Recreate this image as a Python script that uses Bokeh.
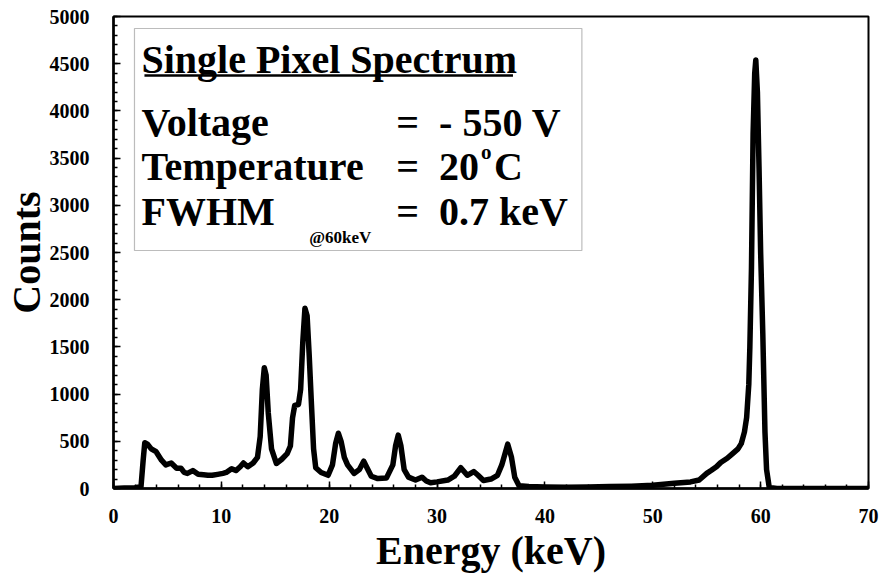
from bokeh.plotting import figure
from bokeh.models import Range1d, SingleIntervalTicker, Label, BoxAnnotation
from bokeh.embed import file_html
from bokeh.resources import INLINE

# Single pixel spectrum: energy (keV) and counts per channel
energy_kev = [
    0.0, 1.0, 2.0, 2.55, 2.75, 2.9, 3.15, 3.5, 3.95, 4.45, 4.85, 5.35, 5.85,
    6.25, 6.55, 6.85, 7.35, 7.85, 8.35, 8.75, 9.15, 9.65, 10.15, 10.45, 10.95,
    11.35, 11.75, 12.05, 12.45, 12.95, 13.35, 13.6, 13.8, 13.98, 14.15, 14.35,
    14.65, 15.1, 15.6, 16.1, 16.4, 16.6, 16.8, 17.15, 17.35, 17.55, 17.75,
    17.95, 18.15, 18.35, 18.55, 18.75, 19.25, 19.9, 20.3, 20.6, 20.85, 21.1,
    21.4, 21.7, 22.3, 22.8, 23.2, 23.5, 23.9, 24.5, 25.3, 25.9, 26.15, 26.4,
    26.65, 26.95, 27.35, 28.0, 28.6, 29.0, 29.4, 30.0, 31.0, 31.6, 32.2, 32.8,
    33.4, 33.8, 34.3, 35.0, 35.6, 36.0, 36.55, 36.9, 37.2, 37.6, 38.5, 40.0,
    42.0, 44.0, 46.0, 48.0, 50.0, 52.0, 53.5, 54.3, 55.0, 55.4, 55.9, 56.3,
    56.9, 57.4, 57.9, 58.2, 58.5, 58.7, 58.9, 59.0, 59.15, 59.3, 59.45, 59.55,
    59.7, 59.85, 60.0, 60.2, 60.4, 60.55, 60.8, 61.5, 70.0,
]
counts = [
    0, 5, 8, 20, 300, 485, 470, 420, 390, 300, 250, 270, 215,
    215, 170, 160, 190, 150, 145, 140, 140, 150, 160, 170, 210,
    190, 230, 270, 230, 270, 330, 550, 1050, 1280, 1200, 800,
    420, 265, 310, 370, 450, 750, 880, 890, 1050, 1550, 1910,
    1830, 1400, 900, 420, 220, 170, 140, 250, 480, 585, 500,
    330, 250, 160, 200, 290, 220, 130, 105, 110, 250, 450, 565,
    450, 200, 120, 90, 120, 80, 60, 70, 90, 130, 220, 140,
    180, 140, 85, 100, 140, 250, 470, 330, 120, 30, 20, 15,
    12, 15, 20, 25, 35, 55, 70, 90, 160, 190, 230, 275,
    320, 370, 420, 475, 600, 750, 1100, 1500, 2340, 3760, 4400, 4540,
    4200, 3400, 2500, 1640, 600, 200, 10, 0, 0,
]

x_ticks_interval = 10
y_ticks_interval = 500

FONT = "Liberation Serif"

p = figure(
    width=881, height=576,
    output_backend="svg", toolbar_location=None,
    x_range=Range1d(0, 70), y_range=Range1d(0, 5000),
    min_border_left=112, min_border_right=13,
    min_border_top=16, min_border_bottom=88,
    background_fill_color="white", border_fill_color="white",
)
p.outline_line_color = "black"
p.outline_line_width = 2
p.xgrid.visible = False
p.ygrid.visible = False

p.xaxis.ticker = SingleIntervalTicker(interval=x_ticks_interval, num_minor_ticks=5)
p.yaxis.ticker = SingleIntervalTicker(interval=y_ticks_interval, num_minor_ticks=5)

for ax in (p.xaxis[0], p.yaxis[0]):
    ax.axis_line_width = 2.5
    ax.axis_line_color = "black"
    ax.major_tick_in = 7
    ax.major_tick_out = 0
    ax.minor_tick_in = 4
    ax.minor_tick_out = 0
    ax.major_tick_line_width = 1.5
    ax.minor_tick_line_width = 1.5
    ax.major_tick_line_color = "black"
    ax.minor_tick_line_color = "black"
    ax.major_label_text_font = FONT
    ax.major_label_text_font_style = "bold"
    ax.major_label_text_font_size = "20px"
    ax.major_label_text_color = "black"
    ax.axis_label_text_font = FONT
    ax.axis_label_text_font_style = "bold"
    ax.axis_label_text_font_size = "40px"
    ax.axis_label_text_color = "black"

p.xaxis.axis_label = "Energy (keV)"
p.yaxis.axis_label = "Counts"
p.xaxis.major_label_standoff = 20
p.yaxis.major_label_standoff = 24
p.xaxis.axis_label_standoff = 2
p.yaxis.axis_label_standoff = -2

p.line(energy_kev, counts, line_width=5.5, line_color="black", line_join="round")

# Info box in the upper left corner, positioned in pixel space of the frame
FRAME_L, FRAME_B = 112, 488
PX_PER_KEV, PX_PER_COUNT = 10.8, 0.0944


def dx(px):
    return (px - FRAME_L) / PX_PER_KEV


def dy(py):
    return (FRAME_B - py) / PX_PER_COUNT


p.add_layout(BoxAnnotation(
    left=dx(133), right=dx(581), top=dy(28), bottom=dy(250),
    fill_color="white", fill_alpha=1.0,
    line_color="#222222", line_width=1.2, level="underlay",
))


def add_text(text, px, py, size="40px"):
    p.add_layout(Label(
        x=dx(px), y=dy(py), text=text,
        text_font=FONT, text_font_style="bold", text_font_size=size,
        text_color="black", text_baseline="alphabetic", text_align="left",
    ))


add_text("Single Pixel Spectrum", 140, 59)
p.segment(x0=[dx(143)], y0=[dy(75)], x1=[dx(512)], y1=[dy(75)],
          line_color="black", line_width=2.5)

add_text("Voltage", 140, 122)
add_text("Temperature", 140, 166)
add_text("FWHM", 140, 211)
add_text("@60keV", 308, 237, size="17px")

for row_py in (122, 166, 211):
    add_text("=", 395, row_py)
add_text("- 550 V", 438, 122)
add_text("20", 438, 166)
add_text("o", 480, 151, size="21px")
add_text("C", 493, 166)
add_text("0.7 keV", 438, 211)

open("out.html", "w").write(file_html(p, INLINE))
